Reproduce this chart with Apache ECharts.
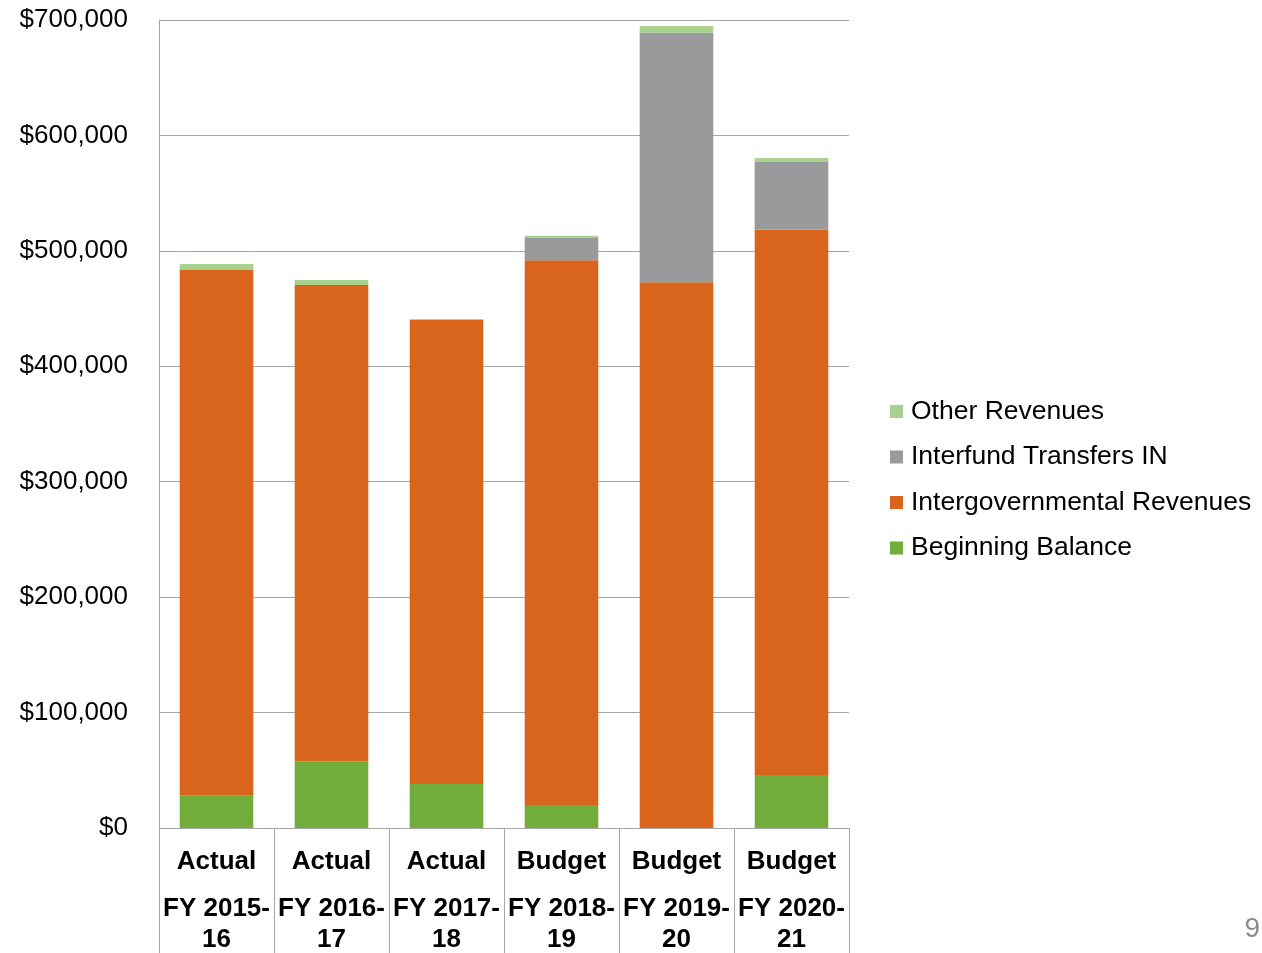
<!DOCTYPE html>
<html>
<head>
<meta charset="UTF-8" />
<title>Revenues</title>
<script src="https://cdn.jsdelivr.net/npm/echarts@6/dist/echarts.min.js"></script>
<style>
  html, body { margin: 0; padding: 0; background: #fff; }
  #chart { width: 1262px; height: 953px; }
</style>
</head>
<body>
<div id="chart"></div>
<script>
// data
var categories = [
  ["Actual", "FY 2015-", "16"],
  ["Actual", "FY 2016-", "17"],
  ["Actual", "FY 2017-", "18"],
  ["Budget", "FY 2018-", "19"],
  ["Budget", "FY 2019-", "20"],
  ["Budget", "FY 2020-", "21"]
];
var beginningBalance = [28300, 57800, 38100, 19900, 0, 45900];
var intergovRevenues = [455100, 412600, 402300, 471900, 472800, 472400];
var interfundIn = [0, 0, 0, 19300, 216200, 58700];
var otherRevenues = [5200, 4400, 500, 2000, 5800, 3400];

var colors = {
  bb: "#72AC3A",
  intergov: "#D9651C",
  interfund: "#999A9C",
  other: "#A9D18E"
};
var gray = "#A6A6A6";
var font = "Liberation Sans, Arial, sans-serif";

var chart = echarts.init(document.getElementById("chart"));

function bar(name, data, color) {
  return {
    name: name,
    type: "bar",
    stack: "total",
    barCategoryGap: "36%",
    data: data,
    itemStyle: { color: color },
    emphasis: { disabled: true }
  };
}

var option = {
  animation: false,
  textStyle: { fontFamily: font },
  grid: { left: 159, right: 413, top: 20, bottom: 125, containLabel: false },
  legend: {
    orient: "vertical",
    left: 885,
    top: 393,
    itemWidth: 13,
    itemHeight: 13,
    itemGap: 18.5,
    icon: "rect",
    textStyle: { fontSize: 26.5, color: "#000", fontFamily: font, padding: [0, 0, 0, 3] },
    data: ["Other Revenues", "Interfund Transfers IN", "Intergovernmental Revenues", "Beginning Balance"]
  },
  xAxis: {
    type: "category",
    data: categories.map(function (c) { return c.join("|"); }),
    axisLine: { lineStyle: { color: gray, width: 1 } },
    axisTick: { show: true, length: 125, lineStyle: { color: gray } },
    axisLabel: {
      margin: 2,
      interval: 0,
      formatter: function (v) {
        var p = v.split("|");
        return "{a|" + p[0] + "}\n{b|" + p[1] + "}\n{b|" + p[2] + "}";
      },
      rich: {
        a: { fontSize: 26, fontWeight: "bold", color: "#000", lineHeight: 63, fontFamily: font },
        b: { fontSize: 26, fontWeight: "bold", color: "#000", lineHeight: 31, fontFamily: font }
      }
    }
  },
  yAxis: {
    type: "value",
    min: 0,
    max: 700000,
    interval: 100000,
    axisLine: { show: true, lineStyle: { color: gray } },
    axisTick: { show: false },
    splitLine: { lineStyle: { color: gray, width: 1 } },
    axisLabel: {
      margin: 31,
      fontSize: 26,
      color: "#000",
      fontFamily: font,
      formatter: function (v) { return "$" + v.toLocaleString("en-US"); }
    }
  },
  graphic: [{
    type: "text",
    right: 2,
    top: 915,
    style: { text: "9", fontSize: 28, fill: "#8C8C8C", fontFamily: font }
  }],
  series: [
    bar("Beginning Balance", beginningBalance, colors.bb),
    bar("Intergovernmental Revenues", intergovRevenues, colors.intergov),
    bar("Interfund Transfers IN", interfundIn, colors.interfund),
    bar("Other Revenues", otherRevenues, colors.other)
  ]
};

chart.setOption(option);
</script>
</body>
</html>
